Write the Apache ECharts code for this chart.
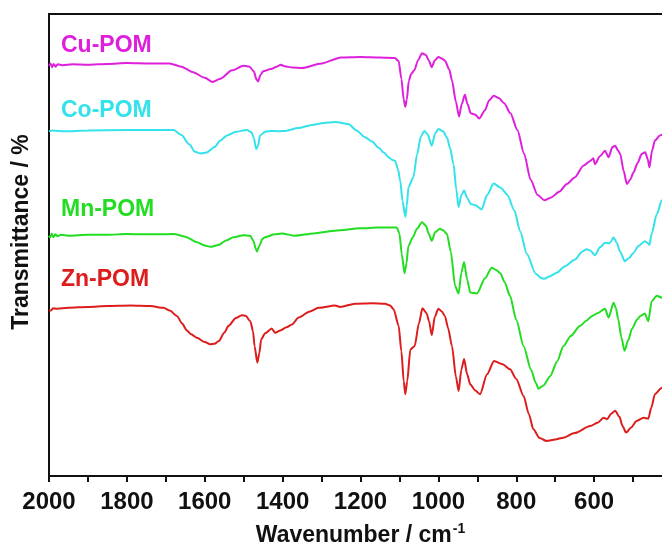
<!DOCTYPE html>
<html>
<head>
<meta charset="utf-8">
<title>FTIR spectra</title>
<script src="https://cdn.jsdelivr.net/npm/echarts@6/dist/echarts.min.js"></script>
<style>
    html, body { margin: 0; padding: 0; background: #fff; }
    #chart { width: 662px; height: 548px; }
</style>
</head>
<body>
<div id="chart"></div>
<script>
// series names and colours
var names = ['Cu-POM', 'Co-POM', 'Mn-POM', 'Zn-POM'];
var colors = ['#DE1FDC', '#33E2EA', '#22DD22', '#DD1C1C'];

// x ticks (wavenumber, cm-1)
var xMin = 400;
var xMax = 2000;
var xStep = 200;

// spectra: [wavenumber, transmittance (offset, a.u.)]
var cuPom = [[2000, 88.8], [1996, 89.3], [1992, 88.5], [1988, 89.2], [1983, 88.6], [1978, 89.1], [1965, 88.9], [1940, 89.1], [1900, 89.0], [1850, 89.2], [1800, 89.4], [1740, 89.3], [1690, 89.3], [1660, 88.6], [1630, 87.4], [1600, 86.2], [1580, 85.3], [1560, 86.0], [1530, 87.8], [1500, 88.8], [1485, 88.6], [1474, 87.6], [1467, 85.8], [1463, 85.4], [1457, 86.8], [1450, 87.6], [1430, 88.1], [1415, 88.6], [1405, 89.0], [1395, 88.7], [1375, 88.4], [1350, 88.3], [1300, 89.3], [1250, 90.6], [1200, 90.7], [1150, 90.6], [1112, 90.5], [1102, 89.8], [1095, 86], [1089, 81.5], [1085, 79.9], [1081, 81.5], [1076, 85.5], [1070, 87.0], [1062, 87.8], [1052, 90.0], [1042, 91.5], [1032, 91.1], [1025, 90.0], [1017, 88.5], [1009, 90], [1000, 90.7], [990, 90.3], [983, 89.9], [972, 88], [965, 85.6], [955, 81], [947, 77.8], [940, 80.5], [932, 82.5], [925, 80.5], [917, 78.5], [905, 78.2], [895, 77.4], [880, 79.2], [870, 81.3], [858, 82.3], [845, 81.8], [831, 80.7], [815, 78.5], [797, 74.9], [780, 69.8], [763, 64.1], [745, 60.8], [728, 59.7], [710, 60.3], [690, 61.5], [670, 63.2], [650, 64.6], [627, 67.2], [610, 68.2], [602, 68.8], [598, 67.5], [585, 69.2], [572, 70.4], [563, 69.0], [553, 71.2], [546, 71.5], [538, 70.4], [533, 69.7], [524, 66], [516, 63.2], [507, 64.2], [499, 65.7], [488, 67.8], [478, 69.7], [469, 70.1], [462, 68.5], [458, 66.8], [451, 70.5], [444, 72.6], [431, 73.7], [415, 74.5]];

var coPom = [[2000, 74.6], [1990, 74.8], [1960, 74.6], [1900, 74.8], [1800, 74.9], [1720, 74.9], [1680, 74.9], [1660, 73.8], [1640, 71.8], [1625, 70.2], [1610, 69.8], [1595, 70.0], [1575, 71.2], [1560, 72.6], [1543, 73.7], [1520, 74.5], [1492, 74.9], [1480, 74.4], [1474, 73.2], [1468, 70.8], [1463, 71.5], [1458, 73.7], [1445, 74.5], [1428, 74.7], [1410, 74.6], [1393, 74.7], [1360, 75.3], [1325, 76.0], [1295, 76.4], [1265, 76.6], [1231, 76.2], [1210, 74.8], [1188, 73.3], [1170, 72.4], [1154, 71.1], [1140, 70.0], [1128, 69.0], [1118, 68.4], [1111, 68.2], [1104, 66.5], [1098, 63.9], [1092, 59.5], [1085, 56.1], [1081, 58.5], [1077, 62.5], [1064, 64.7], [1055, 69.5], [1045, 73.5], [1036, 74.7], [1028, 74.0], [1017, 71.5], [1008, 74.2], [1000, 75.1], [988, 74.6], [978, 73.3], [970, 71.0], [961, 67.5], [954, 62], [948, 58.2], [941, 60.8], [934, 61.8], [926, 60.2], [917, 58.9], [905, 58.6], [889, 57.7], [875, 60.8], [858, 63.3], [840, 62.4], [823, 60.9], [805, 57.5], [790, 53], [773, 48.1], [750, 43.8], [735, 42.8], [728, 42.7], [715, 43.2], [696, 44.0], [675, 45.4], [650, 46.8], [630, 48.6], [619, 49.1], [610, 48.8], [598, 47.8], [585, 49.5], [572, 50.5], [560, 50.4], [550, 51.6], [542, 50.5], [533, 48.5], [521, 46.5], [510, 47.2], [500, 48.2], [486, 49.8], [470, 50.8], [462, 50.4], [458, 50.0], [452, 52.5], [439, 56.7], [426, 59.7], [415, 61.0]];

var mnPom = [[2000, 52.0], [1997, 51.6], [1993, 52.5], [1989, 51.7], [1984, 52.3], [1978, 51.9], [1970, 52.2], [1950, 52.0], [1900, 52.2], [1850, 52.2], [1800, 52.4], [1740, 52.3], [1680, 52.4], [1650, 51.8], [1620, 50.6], [1600, 49.9], [1586, 49.6], [1565, 50.0], [1545, 51.0], [1526, 51.7], [1500, 52.1], [1483, 52.0], [1475, 50.9], [1469, 49.2], [1466, 48.6], [1460, 49.8], [1452, 51.3], [1445, 51.7], [1420, 52.3], [1402, 52.5], [1368, 52.0], [1320, 52.5], [1265, 53.1], [1200, 53.6], [1154, 53.8], [1107, 53.8], [1100, 52.5], [1094, 48], [1087, 43.9], [1082, 46], [1077, 49.8], [1066, 51.6], [1055, 53.5], [1042, 54.9], [1032, 54.2], [1025, 52.5], [1017, 50.9], [1008, 52.8], [996, 53.5], [988, 53.2], [978, 52.4], [968, 48.5], [957, 41.1], [948, 39.5], [941, 44], [934, 46.3], [926, 42.5], [918, 39.7], [901, 39.5], [880, 42.8], [863, 45.1], [852, 44.6], [841, 43.9], [830, 42], [816, 39.0], [800, 33.8], [781, 28.1], [762, 23], [750, 20.2], [743, 18.9], [730, 19.6], [713, 21.6], [695, 24.8], [679, 28.1], [660, 30.3], [636, 32.5], [620, 33.6], [606, 34.6], [590, 35.3], [572, 36.2], [563, 34.3], [550, 37.5], [544, 36.3], [538, 33.9], [530, 30], [522, 27.1], [512, 29.5], [503, 31.8], [490, 33.8], [482, 34.6], [470, 35.2], [461, 33.5], [452, 37.9], [439, 39.0], [426, 38.6], [415, 39.5]];

var znPom = [[2000, 35.9], [1995, 35.8], [1990, 36.3], [1980, 36.2], [1950, 36.4], [1900, 36.6], [1850, 36.8], [1791, 36.9], [1740, 36.8], [1706, 36.4], [1690, 35.8], [1671, 34.6], [1658, 33.0], [1646, 31.5], [1635, 30.7], [1620, 29.9], [1600, 29.0], [1586, 28.5], [1575, 28.6], [1564, 29.2], [1550, 31.0], [1539, 32.5], [1520, 34.2], [1505, 34.8], [1495, 34.7], [1483, 33.5], [1476, 31.3], [1472, 28.1], [1465, 24.5], [1460, 26.5], [1455, 29.6], [1445, 30.9], [1428, 31.9], [1419, 31.0], [1406, 31.5], [1390, 32.2], [1376, 32.8], [1359, 34.3], [1330, 35.6], [1308, 36.4], [1265, 36.9], [1252, 36.6], [1214, 37.3], [1170, 37.4], [1137, 37.3], [1124, 36.9], [1115, 36.1], [1102, 32.5], [1095, 27], [1089, 20.5], [1085, 17.7], [1080, 20.5], [1072, 27.4], [1061, 28.1], [1050, 33], [1041, 36.3], [1030, 35.2], [1024, 33.5], [1017, 30.5], [1009, 34.5], [1000, 36.2], [991, 35.6], [983, 34.6], [975, 32], [965, 28.1], [955, 21.5], [948, 18.4], [941, 23], [934, 25.3], [926, 22], [918, 19.8], [905, 18.5], [893, 17.7], [875, 22], [857, 24.9], [835, 24.2], [816, 23.1], [800, 21.0], [781, 17.3], [768, 13.5], [756, 10.1], [740, 8.2], [722, 7.6], [700, 7.9], [679, 8.3], [650, 9.3], [610, 10.8], [590, 11.6], [576, 12.6], [567, 12.3], [556, 13.5], [546, 14.1], [535, 12.8], [527, 10.8], [518, 9.4], [505, 10.5], [491, 11.9], [473, 12.6], [461, 12.4], [453, 14.8], [444, 17.7], [426, 19.1], [415, 20.0]];

var spectra = [cuPom, coPom, mnPom, znPom];

// label positions (px) for the series names
var labelTops = [34, 99, 198, 268];

var fontFamily = 'Arial, "Liberation Sans", Helvetica, sans-serif';

var myChart = echarts.init(document.getElementById('chart'));

//build the line series
var series = spectra.map(function(data, i) {
    return {
        name: names[i],
        type: 'line',
        data: data,
        showSymbol: false,
        smooth: 0.25,
        smoothMonotone: 'x',
        lineStyle: { color: colors[i], width: 2 },
        itemStyle: { color: colors[i] },
        silent: true,
        animation: false
    };
});

//series name labels + y title
var graphics = names.map(function(name, i) {
    return {
        type: 'text',
        left: 61,
        top: labelTops[i],
        style: {
            text: name,
            fill: colors[i],
            font: 'bold 23px ' + fontFamily
        }
    };
});
graphics.push({
    type: 'text',
    x: 22,
    y: 232,
    rotation: Math.PI / 2,
    style: {
        text: 'Transmittance / %',
        fill: '#111',
        font: 'bold 23px ' + fontFamily,
        align: 'center',
        verticalAlign: 'middle'
    }
});

var option = {
    backgroundColor: '#fff',
    animation: false,
    grid: {
        left: 49,
        right: -10,
        top: 14,
        bottom: 72,
        outerBoundsMode: 'none',
        containLabel: false,
        show: true,
        borderColor: '#111',
        borderWidth: 2
    },
    xAxis: {
        type: 'value',
        min: xMin,
        max: xMax,
        interval: xStep,
        inverse: true,
        name: '{a|Wavenumber / cm}{b|-1}',
        nameLocation: 'middle',
        nameGap: 47,
        nameTextStyle: {
            rich: {
                a: { fontSize: 23, fontWeight: 'bold', fontFamily: fontFamily, color: '#111', lineHeight: 26 },
                b: { fontSize: 14, fontWeight: 'bold', fontFamily: fontFamily, color: '#111', lineHeight: 26, padding: [0, 0, 14, 1] }
            }
        },
        axisLine: { show: true, lineStyle: { color: '#111', width: 2 } },
        axisTick: { show: true, inside: false, length: 6, lineStyle: { color: '#111', width: 2 } },
        minorTick: { show: true, splitNumber: 2, length: 6, lineStyle: { color: '#111', width: 2 } },
        splitLine: { show: false },
        axisLabel: {
            margin: 14,
            color: '#111',
            fontSize: 24,
            fontWeight: 'bold',
            fontFamily: fontFamily,
            formatter: function(v) { return v == xMin ? '' : v; }
        }
    },
    yAxis: {
        type: 'value',
        min: 0,
        max: 100,
        axisLine: { show: true, lineStyle: { color: '#111', width: 2 } },
        axisTick: { show: false },
        axisLabel: { show: false },
        splitLine: { show: false }
    },
    graphic: graphics,
    series: series
};

myChart.setOption(option);
</script>
</body>
</html>
